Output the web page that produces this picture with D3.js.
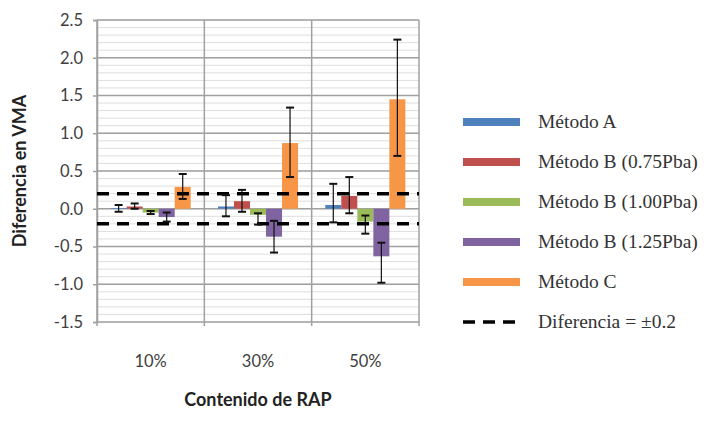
<!DOCTYPE html>
<html><head><meta charset="utf-8">
<script src="https://cdn.jsdelivr.net/npm/d3@7"></script>
<style>body{margin:0;background:#fff}svg{display:block}</style>
</head><body>
<svg id="chart" width="707" height="424"></svg>
<script>
const categories = ["10%", "30%", "50%"];
const seriesNames = ["Método A", "Método B (0.75Pba)", "Método B (1.00Pba)", "Método B (1.25Pba)", "Método C"];
const seriesColors = ["#4F81BD", "#C0504D", "#9BBB59", "#8064A2", "#F79646"];
// mean values per category
const metodoA   = [0.01, 0.03, 0.05];
const metodoB075 = [0.03, 0.10, 0.17];
const metodoB100 = [-0.05, -0.08, -0.17];
const metodoB125 = [-0.11, -0.37, -0.63];
const metodoC   = [0.29, 0.87, 1.45];
// error bar lower / upper ends
const lowA   = [-0.04, -0.10, -0.18];
const highA  = [0.05, 0.18, 0.33];
const lowB075  = [0.00, -0.04, -0.06];
const highB075 = [0.07, 0.25, 0.42];
const lowB100  = [-0.07, -0.21, -0.33];
const highB100 = [-0.03, -0.06, -0.09];
const lowB125  = [-0.17, -0.58, -0.98];
const highB125 = [-0.05, -0.16, -0.45];
const lowC   = [0.13, 0.42, 0.70];
const highC  = [0.46, 1.34, 2.24];
const yTicks = [-1.5, -1.0, -0.5, 0.0, 0.5, 1.0, 1.5, 2.0, 2.5];
const threshold = [0.2, -0.2];
const yTitle = "Diferencia en VMA";
const xTitle = "Contenido de RAP";
const thresholdLabel = "Diferencia = ±0.2";

const values = [metodoA, metodoB075, metodoB100, metodoB125, metodoC];
const lows = [lowA, lowB075, lowB100, lowB125, lowC];
const highs = [highA, highB075, highB100, highB125, highC];

const svg = d3.select("#chart");
const L = 97, R = 419, T = 20, B = 322;
const sans = "Lato, 'Open Sans', sans-serif";

const y = d3.scaleLinear().domain([-1.5, 2.5]).range([B, T]);
const x0 = d3.scaleBand().domain(categories).range([L, R]).padding(0);
const x1 = d3.scaleBand().domain(seriesNames).range([0, x0.bandwidth()]).paddingInner(0).paddingOuter(0.85);

// minor gridlines
const minor = d3.range(-1.5, 2.5001, 0.1).map(v => +v.toFixed(2));
svg.append("g").selectAll("line").data(minor).join("line")
  .attr("x1", L).attr("x2", R).attr("y1", d => y(d)).attr("y2", d => y(d))
  .attr("stroke", "#dedede").attr("stroke-width", 1);

// major horizontal gridlines
svg.append("g").selectAll("line").data(yTicks).join("line")
  .attr("x1", L).attr("x2", R).attr("y1", d => y(d)).attr("y2", d => y(d))
  .attr("stroke", "#a0a0a0").attr("stroke-width", 1.5);

// vertical category gridlines
const vlines = categories.map(c => x0(c)).concat([R]);
svg.append("g").selectAll("line").data(vlines).join("line")
  .attr("x1", d => d).attr("x2", d => d).attr("y1", T).attr("y2", B + 4)
  .attr("stroke", "#a0a0a0").attr("stroke-width", 1.5);

// y axis
const fmt = d3.format(".1f");
const yAxis = d3.axisLeft(y).tickValues(yTicks).tickFormat(d => fmt(d).replace("\u2212", "-")).tickSize(4).tickPadding(10);
const ga = svg.append("g").attr("transform", `translate(${L},0)`).call(yAxis);
ga.select(".domain").attr("stroke", "#a0a0a0").attr("stroke-width", 1.5);
ga.selectAll(".tick line").attr("stroke", "#a0a0a0").attr("stroke-width", 1.5);
ga.selectAll("text").attr("font-family", sans).attr("font-size", 16.5).attr("fill", "#404040");

// x axis labels
const xAxis = d3.axisBottom(x0).tickSize(0).tickPadding(33);
const gx = svg.append("g").attr("transform", `translate(0,${B})`).call(xAxis);
gx.select(".domain").remove();
gx.selectAll("text").attr("font-family", sans).attr("font-size", 16.5).attr("fill", "#404040");

// bars
const barData = [];
categories.forEach((c, ci) => seriesNames.forEach((s, si) => {
  barData.push({c, s, si, v: values[si][ci], lo: lows[si][ci], hi: highs[si][ci]});
}));
const gb = svg.append("g");
gb.selectAll("rect").data(barData).join("rect")
  .attr("x", d => x0(d.c) + x1(d.s))
  .attr("width", x1.bandwidth())
  .attr("y", d => y(Math.max(0, d.v)))
  .attr("height", d => Math.abs(y(d.v) - y(0)))
  .attr("fill", d => seriesColors[d.si]);

// threshold dashed lines
svg.append("g").selectAll("line").data(threshold).join("line")
  .attr("x1", L).attr("x2", R).attr("y1", d => y(d)).attr("y2", d => y(d))
  .attr("stroke", "#000").attr("stroke-width", 3.5).attr("stroke-dasharray", "12,8");

// error bars
const ge = svg.append("g").attr("stroke", "#111").attr("stroke-width", 1.2);
barData.forEach(d => {
  const cx = x0(d.c) + x1(d.s) + x1.bandwidth() / 2;
  ge.append("line").attr("x1", cx).attr("x2", cx).attr("y1", y(d.lo)).attr("y2", y(d.hi));
  ge.append("line").attr("x1", cx - 4).attr("x2", cx + 4).attr("y1", y(d.lo)).attr("y2", y(d.lo)).attr("stroke-width", 2);
  ge.append("line").attr("x1", cx - 4).attr("x2", cx + 4).attr("y1", y(d.hi)).attr("y2", y(d.hi)).attr("stroke-width", 2);
});

// axis titles
svg.append("text").attr("transform", `translate(26,${(T + B) / 2}) rotate(-90)`)
  .attr("text-anchor", "middle").attr("font-family", sans)
  .attr("font-weight", "bold").attr("font-size", 18).attr("fill", "#222").text(yTitle);
svg.append("text").attr("x", (L + R) / 2).attr("y", 406)
  .attr("text-anchor", "middle").attr("font-family", sans)
  .attr("font-weight", "bold").attr("font-size", 18).attr("fill", "#222").text(xTitle);

// legend
const lg = svg.append("g");
const legendItems = seriesNames.map((n, i) => ({name: n, color: seriesColors[i], dash: false}))
  .concat([{name: thresholdLabel, color: "#000", dash: true}]);
legendItems.forEach((it, i) => {
  const cy = 122 + i * 40;
  if (it.dash) {
    lg.append("line").attr("x1", 463).attr("x2", 520).attr("y1", cy).attr("y2", cy)
      .attr("stroke", "#000").attr("stroke-width", 3.5).attr("stroke-dasharray", "12,8");
  } else {
    lg.append("rect").attr("x", 463).attr("y", cy - 4).attr("width", 57).attr("height", 8).attr("fill", it.color);
  }
  lg.append("text").attr("x", 538).attr("y", cy + 6)
    .attr("font-family", "'Liberation Serif', 'Times New Roman', serif").attr("font-size", 19.5)
    .attr("fill", "#333").text(it.name);
});
</script>
</body></html>
